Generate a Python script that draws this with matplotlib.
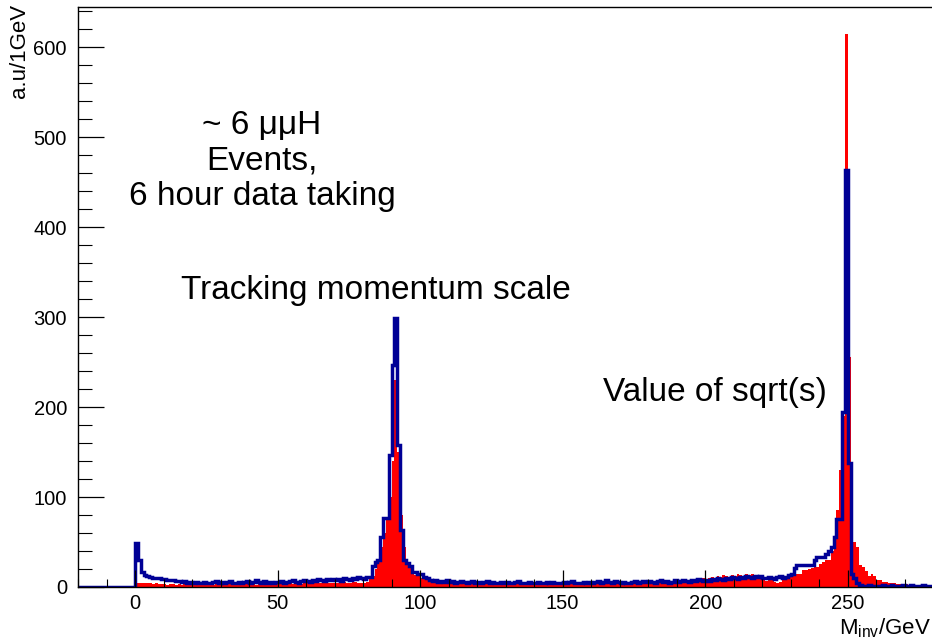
import numpy as np
import matplotlib
matplotlib.use("Agg")
import matplotlib.pyplot as plt
from matplotlib.ticker import MultipleLocator

# ---------------- data (1 GeV bins) ----------------
bin_low = 0          # first bin lower edge of the filled (red) histogram
blue_low = -20       # blue histogram starts here (empty bins below 0)

blue_below_zero = [0] * 20

blue_counts = [
    49, 30, 17, 13, 12, 11, 10, 10, 10, 9,      # 0-9
    9, 8, 8, 8, 7, 7, 6, 7, 5, 6,               # 10-19
    5, 6, 5, 4, 6, 5, 5, 6, 7, 5,               # 20-29
    6, 5, 6, 7, 5, 5, 6, 5, 6, 7,               # 30-39
    5, 6, 8, 6, 5, 7, 5, 6, 5, 6,               # 40-49
    6, 7, 5, 6, 7, 8, 6, 5, 7, 8,               # 50-59
    7, 6, 8, 7, 9, 8, 7, 9, 8, 9,               # 60-69
    8, 9, 7, 10, 9, 8, 10, 9, 11, 10,           # 70-79
    9, 11, 11, 23, 28, 30, 56, 77, 77, 147,     # 80-89
    247, 299, 158, 63, 30, 27, 23, 17, 17, 15,  # 90-99
    15, 11, 10, 8, 7, 8, 6, 7, 6, 8,            # 100-109
    6, 7, 5, 6, 7, 6, 5, 6, 7, 5,               # 110-119
    6, 5, 6, 7, 5, 6, 4, 5, 6, 5,               # 120-129
    6, 5, 5, 6, 7, 5, 4, 5, 6, 5,               # 130-139
    5, 6, 4, 5, 6, 5, 6, 5, 4, 5,               # 140-149
    6, 5, 6, 7, 5, 4, 5, 6, 5, 6,               # 150-159
    5, 6, 7, 5, 6, 8, 6, 5, 7, 6,               # 160-169
    5, 6, 4, 5, 6, 7, 5, 6, 7, 6,               # 170-179
    7, 6, 5, 7, 8, 6, 7, 5, 6, 8,               # 180-189
    6, 7, 8, 7, 6, 8, 7, 9, 8, 7,               # 190-199
    8, 7, 9, 8, 10, 9, 8, 10, 9, 11,            # 200-209
    10, 9, 11, 10, 12, 11, 10, 12, 11, 12,      # 210-219
    10, 10, 11, 10, 9, 11, 12, 10, 11, 13,      # 220-229
    15, 21, 25, 25, 25, 25, 25, 25, 30, 33,     # 230-239
    33, 33, 37, 40, 45, 56, 76, 76, 195, 464,   # 240-249
    138, 15, 10, 5, 2, 1, 1, 2, 1, 1,           # 250-259
    1, 1, 2, 1, 1, 2, 1, 1, 1, 2,               # 260-269
    1, 1, 2, 1, 1, 1, 2, 1, 1, 1,               # 270-279
]

red_counts = [
    5, 5, 4, 4, 4, 4, 3, 4, 3, 3,               # 0-9
    3, 2, 3, 3, 2, 3, 2, 3, 2, 3,               # 10-19
    2, 3, 2, 3, 3, 2, 3, 2, 3, 3,               # 20-29
    3, 2, 3, 3, 2, 3, 3, 2, 3, 3,               # 30-39
    3, 3, 2, 3, 4, 3, 3, 2, 3, 4,               # 40-49
    3, 4, 3, 3, 4, 3, 4, 4, 3, 4,               # 50-59
    4, 3, 4, 5, 4, 4, 5, 4, 5, 5,               # 60-69
    5, 4, 5, 6, 5, 5, 6, 6, 5, 5,               # 70-79
    5, 6, 9, 12, 20, 30, 45, 60, 75, 100,       # 80-89
    140, 230, 150, 80, 45, 27, 21, 18, 13, 12,  # 90-99
    10, 9, 8, 7, 6, 5, 5, 4, 5, 4,              # 100-109
    4, 5, 3, 4, 4, 3, 5, 4, 3, 4,               # 110-119
    3, 4, 4, 3, 5, 4, 3, 4, 3, 4,               # 120-129
    4, 3, 4, 5, 3, 4, 4, 3, 4, 5,               # 130-139
    3, 4, 4, 3, 5, 4, 3, 4, 4, 3,               # 140-149
    4, 5, 3, 4, 4, 5, 3, 4, 5, 4,               # 150-159
    4, 5, 4, 6, 4, 5, 5, 4, 6, 5,               # 160-169
    5, 4, 6, 5, 5, 6, 4, 5, 6, 5,               # 170-179
    6, 5, 6, 7, 5, 6, 7, 6, 7, 8,               # 180-189
    7, 6, 8, 7, 8, 9, 7, 8, 9, 10,              # 190-199
    9, 10, 11, 10, 12, 11, 13, 12, 11, 13,      # 200-209
    12, 14, 13, 12, 15, 13, 14, 12, 13, 10,     # 210-219
    8, 7, 8, 9, 6, 5, 6, 11, 11, 12,            # 220-229
    13, 13, 14, 14, 19, 19, 20, 21, 22, 22,     # 230-239
    26, 28, 30, 30, 40, 52, 86, 130, 190, 615,  # 240-249
    256, 95, 50, 45, 25, 22, 18, 12, 15, 12,    # 250-259
    8, 8, 6, 6, 5, 4, 5, 3, 3, 2,               # 260-269
    3, 2, 1, 2, 1, 1, 1, 0, 1, 0,               # 270-279
]

x_ticks = [0, 50, 100, 150, 200, 250]
y_ticks = [0, 100, 200, 300, 400, 500, 600]
x_label = r"M$_{\rm inv}$/GeV"
y_label = "a.u/1GeV"
annot_lines = ["~ 6 μμH", "Events,", "6 hour data taking"]
annot_peak_z = "Tracking momentum scale"
annot_peak_s = "Value of sqrt(s)"

# ---------------- figure ----------------
plt.rcParams['font.family'] = ['Liberation Sans', 'DejaVu Sans']
plt.rcParams['mathtext.fontset'] = 'custom'
plt.rcParams['mathtext.rm'] = 'Liberation Sans'
W, H = 932, 639
fig = plt.figure(figsize=(W / 100, H / 100), dpi=100)
ax = fig.add_axes([78 / W, 1 - 587 / H, 861 / W, 580 / H])

red_edges = np.arange(bin_low, bin_low + len(red_counts) + 1)
blue_all = blue_below_zero + blue_counts
blue_edges = np.arange(blue_low, blue_low + len(blue_all) + 1)

ax.stairs(red_counts, red_edges, fill=True, color="#ff0000", linewidth=0)
ax.stairs(blue_all, blue_edges, fill=False, color="#000096", linewidth=2.5,
          baseline=0)

ax.set_xlim(-20, 282)
ax.set_ylim(0, 645)

ax.set_xticks(x_ticks)
ax.set_yticks(y_ticks)
ax.xaxis.set_minor_locator(MultipleLocator(10))
ax.yaxis.set_minor_locator(MultipleLocator(20))
ax.tick_params(axis='x', which='major', direction='in', length=12, width=0.9,
               labelsize=14.5, pad=5)
ax.tick_params(axis='x', which='minor', direction='in', length=6, width=0.8)
ax.tick_params(axis='y', which='major', direction='in', length=19, width=0.9,
               labelsize=14.5, pad=8)
ax.tick_params(axis='y', which='minor', direction='in', length=10, width=0.8)
for s in ax.spines.values():
    s.set_linewidth(1.0)
    s.set_color("black")

fig.text(931 / W, 1 - 628 / H, x_label, ha='right', va='center', fontsize=16)
fig.text(20 / W, 1 - 4 / H, y_label, ha='center', va='top', rotation=90,
         fontsize=16)

for i, line in enumerate(annot_lines):
    fig.text(262 / W, 1 - (125 + 35.5 * i) / H, line, ha='center',
             va='center', fontsize=24)
fig.text(376 / W, 1 - 290 / H, annot_peak_z, ha='center', va='center',
         fontsize=24)
fig.text(715 / W, 1 - 392 / H, annot_peak_s, ha='center', va='center',
         fontsize=24)

fig.savefig("out.png", dpi=100)
